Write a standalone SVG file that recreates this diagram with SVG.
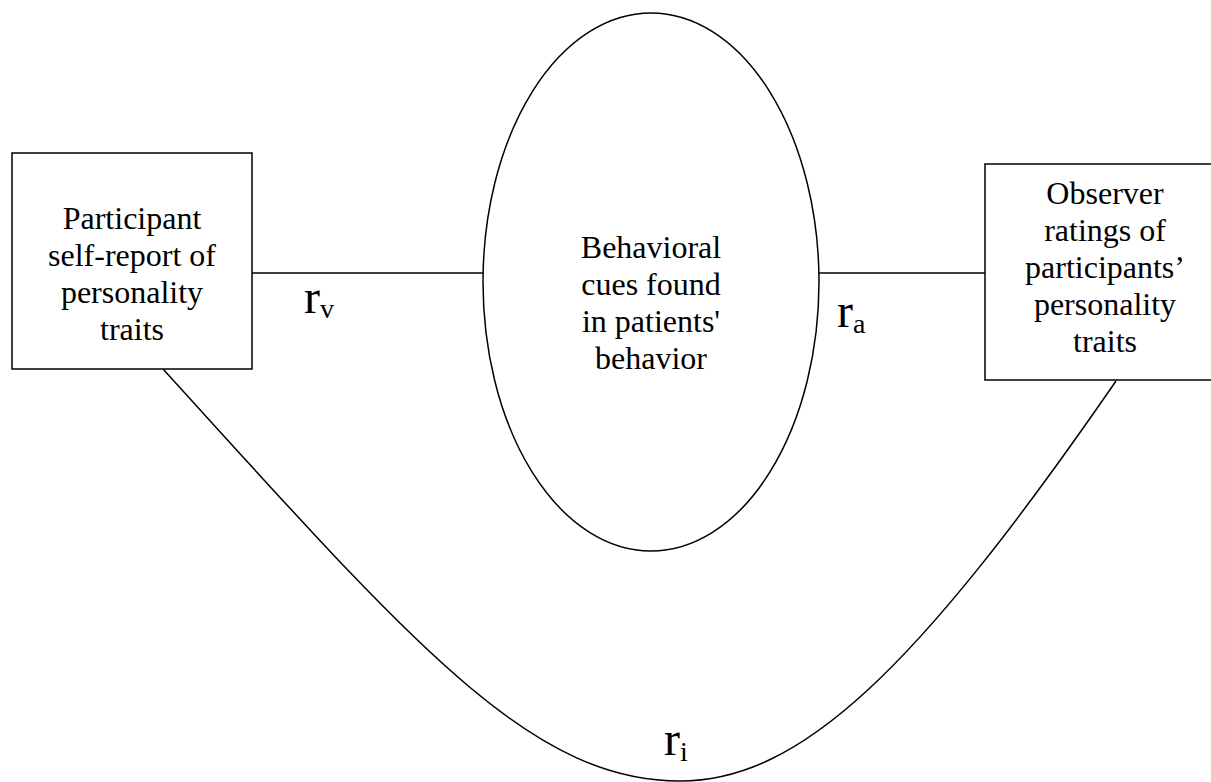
<svg xmlns="http://www.w3.org/2000/svg" width="1211" height="782" viewBox="0 0 1211 782">
  <style>
    .shape { fill: #ffffff; stroke: #000000; stroke-width: 1.5; }
    .conn { fill: none; stroke: #000000; stroke-width: 1.5; }
    .t { font-family: "Liberation Serif", "Times New Roman", serif; font-size: 32px; fill: #000000; text-anchor: middle; }
    .lbl { font-family: "Liberation Serif", "Times New Roman", serif; font-size: 48px; fill: #000000; }
    .sub { font-size: 28px; }
  </style>
  <rect width="1211" height="782" fill="#ffffff"/>
  <g id="connectors">
    <line class="conn" x1="252" y1="273" x2="484" y2="273"/>
    <line class="conn" x1="819" y1="273" x2="985" y2="273"/>
    <path class="conn" d="M163,369 C413,644 530,781 680,781 C800,781 916,671 1116,381"/>
  </g>
  <g id="self-report">
    <rect class="shape" x="12" y="153" width="240" height="216"/>
    <text class="t" x="132" y="229">Participant</text>
    <text class="t" x="132" y="266">self-report of</text>
    <text class="t" x="132" y="303">personality</text>
    <text class="t" x="132" y="340">traits</text>
  </g>
  <g id="cues">
    <ellipse class="shape" cx="651" cy="282" rx="168" ry="269"/>
    <text class="t" x="651" y="258">Behavioral</text>
    <text class="t" x="651" y="295">cues found</text>
    <text class="t" x="651" y="332">in patients'</text>
    <text class="t" x="651" y="369">behavior</text>
  </g>
  <g id="observer">
    <rect class="shape" x="985" y="164" width="240" height="216"/>
    <text class="t" x="1105" y="204">Observer</text>
    <text class="t" x="1105" y="241">ratings of</text>
    <text class="t" x="1105" y="278">participants’</text>
    <text class="t" x="1105" y="315">personality</text>
    <text class="t" x="1105" y="352">traits</text>
  </g>
  <g id="labels">
    <text class="lbl" x="304" y="313">r<tspan class="sub" dy="5">v</tspan></text>
    <text class="lbl" x="837" y="327">r<tspan class="sub" dy="6">a</tspan></text>
    <text class="lbl" x="664" y="755">r<tspan class="sub" dy="6">i</tspan></text>
  </g>
</svg>
